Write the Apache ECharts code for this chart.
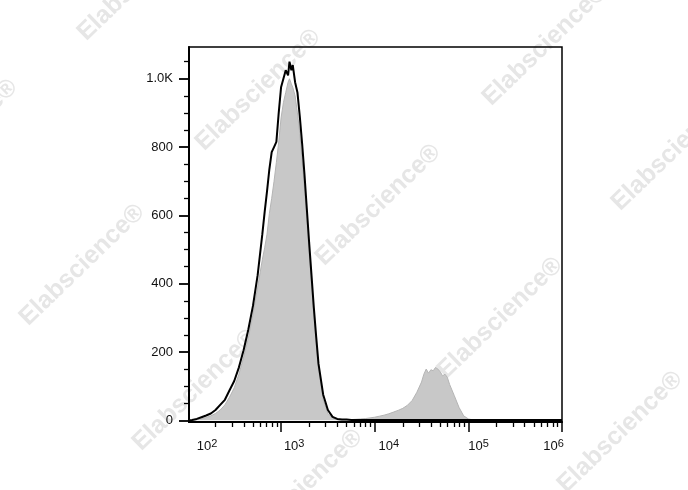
<!DOCTYPE html>
<html><head><meta charset="utf-8">
<script src="https://cdn.jsdelivr.net/npm/echarts@6/dist/echarts.min.js"></script>
<style>html,body{margin:0;padding:0;background:#fff}#c{width:688px;height:490px}</style>
</head><body><div id="c"></div>
<script>
// x positions: log10 of fluorescence intensity (bin centres)
const logX = [
  2.017, 2.05, 2.10, 2.15, 2.20, 2.25, 2.30, 2.35, 2.40, 2.45,
  2.50, 2.55, 2.60, 2.65, 2.70, 2.75, 2.80, 2.825, 2.85, 2.875,
  2.90, 2.925, 2.95, 2.975, 3.00, 3.025, 3.05, 3.075, 3.09, 3.11,
  3.125, 3.15, 3.175, 3.20, 3.225, 3.25, 3.275, 3.30, 3.325, 3.35,
  3.375, 3.40, 3.45, 3.50, 3.55, 3.60, 3.65, 3.70, 3.75, 3.80,
  3.85, 3.90, 3.95, 4.00, 4.05, 4.10, 4.15, 4.20, 4.25, 4.30,
  4.35, 4.40, 4.45, 4.50, 4.525, 4.55, 4.575, 4.60, 4.625, 4.65,
  4.675, 4.70, 4.725, 4.75, 4.775, 4.80, 4.85, 4.90, 4.95, 5.00,
  5.05, 5.10, 5.20, 5.30, 5.40, 5.50, 5.60, 5.70, 5.80, 5.90,
  6.00
];
// grey filled histogram (stained sample)
const stained = [
  0, 0, 2, 4, 8, 13, 20, 30, 45, 68,
  95, 135, 185, 240, 310, 390, 470, 505, 545, 605,
  650, 700, 755, 815, 885, 930, 960, 990, 1000, 985,
  975, 950, 900, 840, 760, 680, 590, 490, 400, 310,
  225, 150, 60, 20, 6, 2, 1, 1, 2, 3,
  4, 5, 7, 9, 12, 15, 19, 24, 29, 35,
  44, 58, 82, 112, 135, 150, 138, 148, 145, 155,
  150, 142, 130, 135, 126, 105, 72, 38, 13, 4,
  1, 0, 0, 0, 0, 0, 0, 0, 0, 0,
  0
];
// black outline histogram (control)
const control = [
  0, 1, 4, 9, 14, 20, 30, 45, 60, 88,
  115, 155, 205, 265, 335, 425, 545, 610, 670, 735,
  785, 800, 815, 900, 975, 1000, 1025, 1010, 1050, 1025,
  1040, 990, 960, 890, 810, 720, 620, 520, 425, 330,
  245, 165, 75, 30, 10, 4, 2, 2, 1, 1,
  1, 1, 1, 1, 1, 1, 1, 1, 1, 1,
  1, 1, 1, 1, 1, 1, 1, 1, 1, 1,
  1, 1, 1, 1, 1, 1, 1, 1, 1, 1,
  1, 1, 1, 1, 1, 1, 1, 1, 1, 1,
  1
];
const xDecades = [2, 3, 4, 5, 6];
const yTickValues = [0, 200, 400, 600, 800, 1000];
const yTickLabels = ['0', '200', '400', '600', '800', '1.0K'];
const watermark = 'Elabscience®';

const X_MIN = 2.017, X_MAX = 6.0, Y_MIN = -5, Y_MAX = 1093;
const majorX = xDecades.filter(d => d >= X_MIN);
const minorX = [];
xDecades.slice(0, -1).forEach(d => { for (let k = 2; k <= 9; k++) minorX.push(d + Math.log10(k)); });
const labelShift = [0.21, 0.14, 0.15, 0.11, -0.09];
const xLabelPos = xDecades.map((d, i) => d + labelShift[i]);
const minorY = [];
for (let v = 50; v <= 1050; v += 50) if (v % 200 !== 0) minorY.push(v);

const axisColor = '#000';
const wmPos = [[140,-20],[258,90],[545,45],[-45,140],[378,205],[674,150],[82,265],[500,318],[195,390],[300,490],[620,432]];

const chart = echarts.init(document.getElementById('c'), null, {renderer: 'canvas'});
chart.setOption({
  animation: false,
  backgroundColor: '#fff',
  graphic: wmPos.map(p => ({
    type: 'text', x: p[0], y: p[1], rotation: 44 * Math.PI / 180, z: -10, silent: true,
    style: {text: watermark, fill: '#e6e6e6', font: 'bold 25px "Liberation Sans", Arial, sans-serif', align: 'center', verticalAlign: 'middle'}
  })),
  grid: {left: 189, right: 126, top: 47, bottom: 68, show: true, borderColor: axisColor, borderWidth: 1.5, backgroundColor: 'transparent'},
  xAxis: [
    {type: 'value', min: X_MIN, max: X_MAX, position: 'bottom',
     axisLine: {show: true, onZero: false, lineStyle: {color: axisColor, width: 2}},
     axisTick: {show: true, customValues: majorX, length: 10, lineStyle: {color: axisColor, width: 1.5}},
     axisLabel: {customValues: xLabelPos, margin: 16, color: '#000',
       formatter: v => '{b|10}{s|' + Math.round(v) + '}',
       rich: {b: {fontSize: 13, fontFamily: 'Liberation Sans', color: '#111', padding: [7, 0, 0, 0], lineHeight: 15, verticalAlign: 'bottom'},
              s: {fontSize: 11, fontFamily: 'Liberation Sans', color: '#111', lineHeight: 12, verticalAlign: 'top'}}},
     splitLine: {show: false}},
    {type: 'value', min: X_MIN, max: X_MAX, position: 'bottom',
     axisLine: {show: false, onZero: false},
     axisTick: {show: true, customValues: minorX, length: 5, lineStyle: {color: axisColor, width: 1.3}},
     axisLabel: {show: false}, splitLine: {show: false}}
  ],
  yAxis: [
    {type: 'value', min: Y_MIN, max: Y_MAX, position: 'left',
     axisLine: {show: true, onZero: false, lineStyle: {color: axisColor, width: 2}},
     axisTick: {show: true, customValues: yTickValues, length: 10, lineStyle: {color: axisColor, width: 1.8}},
     axisLabel: {customValues: yTickValues, margin: 16, fontSize: 13, fontFamily: 'Liberation Sans', color: '#111',
       formatter: v => yTickLabels[yTickValues.indexOf(v)]},
     splitLine: {show: false}},
    {type: 'value', min: Y_MIN, max: Y_MAX, position: 'left',
     axisLine: {show: false, onZero: false},
     axisTick: {show: true, customValues: minorY, length: 5, lineStyle: {color: axisColor, width: 1.3}},
     axisLabel: {show: false}, splitLine: {show: false}}
  ],
  series: [
    {type: 'line', name: 'stained', xAxisIndex: 0, yAxisIndex: 0, data: logX.map((x, i) => [x, stained[i]]),
     showSymbol: false, symbol: 'none', z: 2,
     lineStyle: {color: '#b4b4b4', width: 1}, areaStyle: {color: '#c8c8c8', opacity: 1}},
    {type: 'line', name: 'control', xAxisIndex: 0, yAxisIndex: 0, data: logX.map((x, i) => [x, control[i]]),
     showSymbol: false, symbol: 'none', z: 3,
     lineStyle: {color: '#000', width: 2}}
  ]
});
</script>
</body></html>
